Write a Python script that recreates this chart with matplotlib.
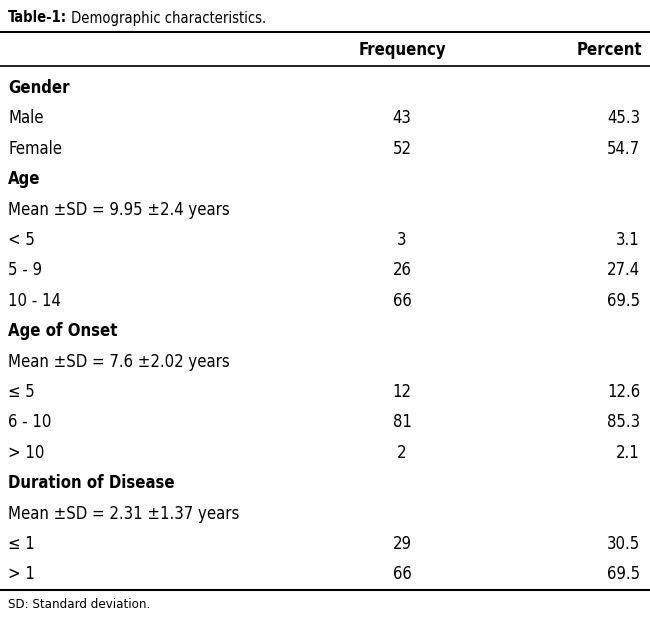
import matplotlib.pyplot as plt

plt.rcParams['font.family'] = ['DejaVu Sans']
plt.rcParams['font.stretch'] = 'condensed'

title_bold = "Table-1:"
title_rest = " Demographic characteristics."
headers = ["Frequency", "Percent"]
# (label, frequency, percent, is_section_header)
rows = [
    ("Gender", "", "", True),
    ("Male", "43", "45.3", False),
    ("Female", "52", "54.7", False),
    ("Age", "", "", True),
    ("Mean \u00b1SD = 9.95 \u00b12.4 years", "", "", False),
    ("< 5", "3", "3.1", False),
    ("5 - 9", "26", "27.4", False),
    ("10 - 14", "66", "69.5", False),
    ("Age of Onset", "", "", True),
    ("Mean \u00b1SD = 7.6 \u00b12.02 years", "", "", False),
    ("\u2264 5", "12", "12.6", False),
    ("6 - 10", "81", "85.3", False),
    ("> 10", "2", "2.1", False),
    ("Duration of Disease", "", "", True),
    ("Mean \u00b1SD = 2.31 \u00b11.37 years", "", "", False),
    ("\u2264 1", "29", "30.5", False),
    ("> 1", "66", "69.5", False),
]
footnote = "SD: Standard deviation."

fig = plt.figure(figsize=(6.5, 6.18), dpi=100)
ax = fig.add_axes([0, 0, 1, 1])
ax.set_xlim(0, 650)
ax.set_ylim(618, 0)
ax.axis('off')

fs = 12
t = ax.text(8, 18, title_bold, fontsize=10.5, fontweight='bold', va='center')
fig.canvas.draw()
bb = t.get_window_extent()
ax.text(8 + bb.width, 18, title_rest, fontsize=10.5, va='center')

ax.plot([0, 650], [32, 32], color='black', lw=1.5)
ax.text(402, 50, headers[0], fontsize=fs, fontweight='bold', ha='center', va='center')
ax.text(642, 50, headers[1], fontsize=fs, fontweight='bold', ha='right', va='center')
ax.plot([0, 650], [66, 66], color='black', lw=1.2)

y0, dy = 88, 30.4
for i, (lab, freq, pct, sec) in enumerate(rows):
    y = y0 + i * dy
    ax.text(8, y, lab, fontsize=fs, fontweight='bold' if sec else 'normal', va='center')
    if freq:
        ax.text(402, y, freq, fontsize=fs, ha='center', va='center')
        ax.text(640, y, pct, fontsize=fs, ha='right', va='center')

ax.plot([0, 650], [590, 590], color='black', lw=1.5)
ax.text(8, 604, footnote, fontsize=9.5, va='center')

fig.savefig('out.png', dpi=100)
